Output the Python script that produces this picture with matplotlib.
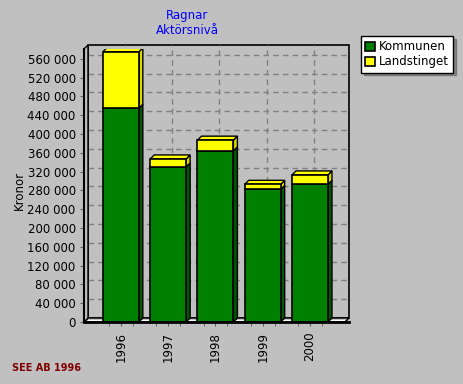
import numpy as np
import matplotlib
matplotlib.use("Agg")
import matplotlib.pyplot as plt
from matplotlib.patches import Polygon, Rectangle
from matplotlib.transforms import ScaledTranslation
from matplotlib.ticker import FuncFormatter, FixedLocator

years = ["1996", "1997", "1998", "1999", "2000"]
kommunen = [455000, 330000, 364000, 282000, 293000]
landstinget = [120000, 17000, 23000, 11000, 20000]
yticks = list(range(0, 560001, 40000))

BG = "#c0c0c0"
GREEN, GREEN_SIDE = "#008000", "#005800"
YELLOW, YELLOW_SIDE = "#ffff00", "#d8d800"

W, H, DPI = 464, 384, 100
fig = plt.figure(figsize=(W / DPI, H / DPI), dpi=DPI, facecolor=BG)
# axes = front plane of the 3d box
L, R, B, T = 84, 345, 322, 49
ax = fig.add_axes([L / W, 1 - B / H, (R - L) / W, (B - T) / H])
ax.set_facecolor("none")
for s in ax.spines.values():
    s.set_visible(False)

x = np.arange(len(years))
xmin, xmax = -0.78, 4.74
ymax = 581000
ax.set_xlim(xmin, xmax)
ax.set_ylim(0, ymax)

# depth of the 3d effect
dpx = 4
dx = dpx * (xmax - xmin) / (R - L)
dy = dpx * ymax / (B - T)
shift = ScaledTranslation(dpx / DPI, dpx / DPI, fig.dpi_scale_trans)

# back wall
ax.add_patch(Rectangle((0, 0), 1, 1, transform=ax.transAxes + shift,
                       facecolor=BG, edgecolor="black", lw=1.2, zorder=0, clip_on=False))
for v in yticks[1:]:
    ax.plot([0, 1], [v, v], transform=ax.get_yaxis_transform() + shift,
            color="#808080", ls=(0, (4, 3)), lw=1, zorder=0.5, clip_on=False)
for xi in x:
    ax.plot([xi, xi], [0, 1], transform=ax.get_xaxis_transform() + shift,
            color="#808080", ls=(0, (4, 3)), lw=1, zorder=0.5, clip_on=False)

# floor and left wall
ax.add_patch(Polygon([(xmin, 0), (xmax, 0), (xmax + dx, dy), (xmin + dx, dy)],
                     facecolor=BG, edgecolor="black", lw=1, zorder=1, clip_on=False))
ax.plot([xmin + dx, xmax + dx], [dy * 0.6, dy * 0.6], color="white", lw=0.8, zorder=1.1)
ax.add_patch(Polygon([(xmin, 0), (xmin + dx, dy), (xmin + dx, ymax + dy), (xmin, ymax)],
                     facecolor=BG, edgecolor="black", lw=1, zorder=1, clip_on=False))
ax.plot([xmin, xmax + dx], [0, 0], color="black", lw=2, zorder=5, clip_on=False)
ax.plot([xmin, xmin], [0, ymax], color="black", lw=1.5, zorder=5, clip_on=False)

bw = 0.76
tot = np.array(kommunen) + np.array(landstinget)
for xi, k, l, t in zip(x, kommunen, landstinget, tot):
    x1 = xi + bw / 2
    ax.add_patch(Polygon([(x1, 0), (x1 + dx, dy), (x1 + dx, k + dy), (x1, k)],
                         facecolor=GREEN_SIDE, edgecolor="black", lw=1, zorder=2))
    ax.add_patch(Polygon([(x1, k), (x1 + dx, k + dy), (x1 + dx, t + dy), (x1, t)],
                         facecolor=YELLOW_SIDE, edgecolor="black", lw=1, zorder=2))
    ax.add_patch(Polygon([(xi - bw / 2, t), (x1, t), (x1 + dx, t + dy), (xi - bw / 2 + dx, t + dy)],
                         facecolor=YELLOW, edgecolor="black", lw=1, zorder=2))

ax.bar(x, kommunen, bw, color=GREEN, edgecolor="black", lw=1.2, zorder=3, label="Kommunen")
ax.bar(x, landstinget, bw, bottom=kommunen, color=YELLOW, edgecolor="black", lw=1.2,
       zorder=3, label="Landstinget")

ax.yaxis.set_major_locator(FixedLocator(yticks))
ax.yaxis.set_major_formatter(FuncFormatter(lambda v, p: f"{int(v):,}".replace(",", " ")))
ax.set_xticks(x)
ax.set_xticklabels(years, rotation=90)
ax.xaxis.set_minor_locator(FixedLocator(np.concatenate([x - 0.25, x + 0.25])))
ax.tick_params(axis="y", length=3, pad=3, labelsize=8.5, color="#606060")
ax.tick_params(axis="x", which="both", length=3, pad=4, labelsize=8.5, color="#606060")

ax.set_ylabel("Kronor", fontsize=8.5)
ax.yaxis.set_label_coords((26 - L) / (R - L), (B - 190) / (B - T))

fig.text(187 / W, 1 - 16 / H, "Ragnar", color="#0000ff", fontsize=8.5, ha="center", va="center")
fig.text(187 / W, 1 - 30 / H, "Aktörsnivå", color="#0000ff", fontsize=8.5, ha="center", va="center")
fig.text(12 / W, 1 - 368 / H, "SEE AB 1996", color="#800000", fontsize=7,
         fontweight="bold", ha="left", va="center")

leg = fig.legend(loc="upper left", bbox_to_anchor=(361 / W, 1 - 36 / H), fontsize=8.5,
                 frameon=True, fancybox=False, shadow=True, edgecolor="black",
                 handlelength=0.8, handleheight=0.8, handletextpad=0.4,
                 borderpad=0.35, labelspacing=0.2, borderaxespad=0)
leg.get_frame().set_linewidth(1)
leg.get_frame().set_facecolor("white")

fig.savefig("out.png", dpi=DPI, facecolor=BG)
